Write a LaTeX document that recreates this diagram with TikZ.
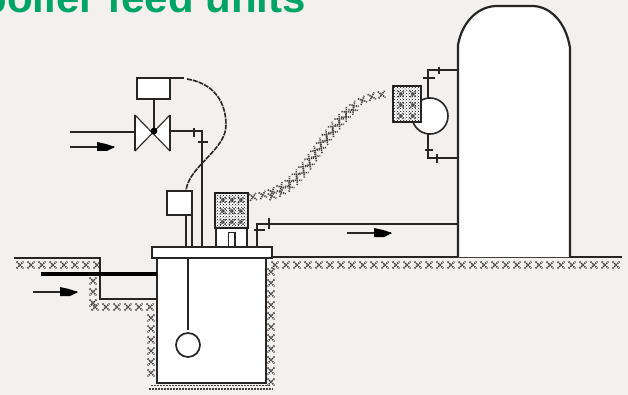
\documentclass[tikz,border=0pt]{standalone}
\usepackage{fontspec}
\usepackage{xcolor}
\setmainfont{Liberation Sans}
\usetikzlibrary{arrows.meta,decorations.markings,patterns}
\definecolor{pagegrey}{HTML}{F3F0ED}
\definecolor{titlegreen}{HTML}{00A565}
\tikzset{
  pipe/.style={line width=1.7pt,black!85},
  wall/.style={line width=2.2pt,black!85},
  xmark/.style={line width=1.6pt,black!75,dash pattern=on 1.3pt off 0.9pt},
  dotrow/.style={line width=1.7pt,black!75,dash pattern=on 1.5pt off 1.5pt},
  xband/.style={decoration={markings,mark=between positions 0 and 1 step #1 with
    {\draw[xmark] (-3.4,-3.4) -- (3.4,3.4) (-3.4,3.4) -- (3.4,-3.4);}},decorate},
  xband/.default=11pt,
  tick/.style={line width=1.7pt,black!85},
  hatchbox/.style={wall,fill=white,postaction={pattern=crosshatch dots,pattern color=black}}
}
\begin{document}
\begin{tikzpicture}[x=1pt,y=-1pt]
  \useasboundingbox (0,0) rectangle (628,395);
  \clip (0,0) rectangle (628,395);
  \fill[pagegrey] (0,0) rectangle (628,395);
  \node[anchor=base east,inner sep=0pt,text=titlegreen,font=\fontsize{42}{44}\selectfont\bfseries] (title) at (306,13) {boiler feed units};

  % insulated ground and pit
  \path[xband] (20,265) -- (100,265);
  \path[xband] (93,281) -- (93,305);
  \path[xband] (95,307) -- (151,307);
  \path[xband] (151,318) -- (151,382);
  \path[xband] (275,265) -- (622,265);
  \path[xband] (271,272) -- (271,382);
  \draw[dotrow] (149,389) -- (273,389);
  \draw[dotrow] (151,385.5) -- (271,385.5);
  \draw[pipe] (14,258) -- (100,258) -- (100,299) -- (157,299);
  \draw[pipe] (272,257) -- (622,257);

  % tank with cover
  \draw[wall,fill=white] (157,258) rectangle (266,383);
  \draw[wall,fill=white] (152,247) rectangle (272,258);
  \draw[line width=4pt,black] (41,274) -- (157,274);
  \draw[pipe] (188,258) -- (188,330);
  \draw[pipe,fill=white] (188,345) circle (12);

  % pump and level box
  \draw[pipe] (186,215) -- (186,247) (192,215) -- (192,247);
  \draw[wall,fill=white] (167,191) rectangle (192,215);
  \draw[wall,fill=white] (216,228) rectangle (247,247);
  \draw[pipe] (228.5,247) -- (228.5,232.5) -- (235,232.5) -- (235,247);
  \draw[hatchbox] (215,193) rectangle (248,228);
  \foreach \hx in {223,232,241} \foreach \hy in {200,211,222}
    \draw[xmark] (\hx-3,\hy-3) -- (\hx+3,\hy+3) (\hx-3,\hy+3) -- (\hx+3,\hy-3);

  % control valve
  \draw[pipe] (70,132) -- (135,132);
  \draw[pipe] (170,131) -- (202,131) -- (202,247);
  \fill[white] (135,115) -- (135,151) -- (170,115) -- (170,151) -- cycle;
  \draw[line width=1.2pt,black!80] (135,115) -- (170,151) (135,151) -- (170,115);
  \draw[wall] (135,115) -- (135,151) (170,115) -- (170,151);
  \draw[pipe] (154,99) -- (154,131);
  \fill[black] (154,131) circle (3.4);
  \draw[wall,fill=white] (137,78) rectangle (170,99);
  \draw[pipe] (170,78) -- (184,78);
  \draw[line width=1.6pt,black!85,dash pattern=on 5pt off 1pt] (187,79) .. controls (212,83) and (226,100) .. (226,125) .. controls (226,150) and (190,165) .. (186,190);
  \draw[tick] (194,128) -- (194,137) (198,142) -- (208,142);

  % boiler
  \draw[wall,fill=white] (458,257) -- (458,45) .. controls (462,22) and (478,6) .. (497,6) -- (532,6) .. controls (550,6) and (566,22) .. (570,48) -- (570,257);
  \draw[pipe] (458,70) -- (428,70) -- (428,98);
  \draw[pipe] (428,134) -- (428,158) -- (458,158);
  \draw[tick] (439,67) -- (439,74) (423,78) -- (435,78);
  \draw[tick] (425,150) -- (433,150) (437,154) -- (437,163);
  \draw[line width=1.6pt,black!85,fill=white] (430,116) circle (18);
  \draw[hatchbox] (393,86) rectangle (421,122);
  \foreach \hx in {401,413} \foreach \hy in {94,105,116}
    \draw[xmark] (\hx-3,\hy-3) -- (\hx+3,\hy+3) (\hx-3,\hy+3) -- (\hx+3,\hy-3);

  % signal hose and return line
  \path[xband=10pt] (253,197) .. controls (300,190) and (310,150) .. (340,118) .. controls (355,102) and (370,94) .. (391,94);
  \path[xband=10pt] (272,196) .. controls (304,186) and (312,156) .. (339,125) .. controls (346,117) and (352,110) .. (360,105);
  \draw[pipe] (257,247) -- (257,224) -- (458,224);
  \draw[tick] (269,218) -- (269,229) (254,230) -- (265,230);

  % flow arrows
  \foreach \ax/\ay in {70/147,33/292,347/233} {
    \draw[pipe] (\ax,\ay) -- (\ax+44,\ay);
    \fill[black] (\ax+27,\ay-5) -- (\ax+36,\ay-3) -- (\ax+45,\ay) -- (\ax+37,\ay+4) -- (\ax+27,\ay+4) -- cycle;
  }
\end{tikzpicture}
\end{document}
